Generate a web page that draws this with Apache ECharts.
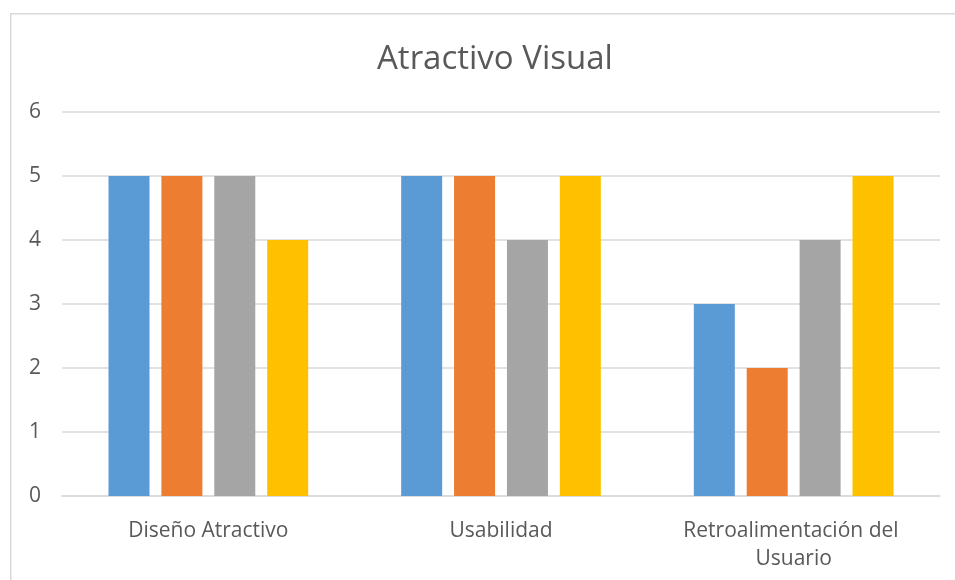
<!DOCTYPE html>
<html>
<head>
<meta charset="utf-8">
<script src="https://cdn.jsdelivr.net/npm/echarts@6/dist/echarts.min.js"></script>
<style>html,body{margin:0;padding:0;background:#fff;}#c{width:955px;height:580px;}</style>
</head>
<body>
<div id="c"></div>
<script>
const categories = ['Diseño Atractivo', 'Usabilidad', 'Retroalimentación del Usuario'];
const seriesNames = ['Serie 1', 'Serie 2', 'Serie 3', 'Serie 4'];
const serie1 = [5, 5, 3];
const serie2 = [5, 5, 2];
const serie3 = [5, 4, 4];
const serie4 = [4, 5, 5];
const colors = ['#5b9bd5', '#ed7d31', '#a5a5a5', '#ffc000'];
const titleText = 'Atractivo Visual';

const font = '"Open Sans", sans-serif';
const chart = echarts.init(document.getElementById('c'));
const data = [serie1, serie2, serie3, serie4];
chart.setOption({
  animation: false,
  graphic: [{
    type: 'rect', left: 10, top: 13, z: -1,
    shape: { width: 1000, height: 700 },
    style: { fill: '#fff', stroke: '#d9d9d9', lineWidth: 1.5 }
  }],
  title: {
    text: titleText, left: 372, top: 38,
    textStyle: { fontFamily: font, fontSize: 33, fontWeight: 'normal', color: '#595959' }
  },
  grid: { left: 62, right: 15, top: 112, bottom: 84 },
  xAxis: {
    type: 'category', data: categories,
    axisLine: { lineStyle: { color: '#d9d9d9', width: 1.5 } },
    axisTick: { show: false },
    axisLabel: {
      interval: 0, margin: 21, color: '#595959', fontFamily: font, fontSize: 21,
      lineHeight: 28, width: 250, overflow: 'break'
    }
  },
  yAxis: {
    type: 'value', min: 0, max: 6, interval: 1,
    axisLine: { show: false }, axisTick: { show: false },
    splitLine: { lineStyle: { color: '#d9d9d9', width: 1.5 } },
    axisLabel: { margin: 21, color: '#595959', fontFamily: font, fontSize: 21 }
  },
  series: data.map((d, i) => ({
    name: seriesNames[i], type: 'bar', data: d,
    barWidth: 41, barGap: '29%',
    itemStyle: { color: colors[i] }
  }))
});
</script>
</body>
</html>
